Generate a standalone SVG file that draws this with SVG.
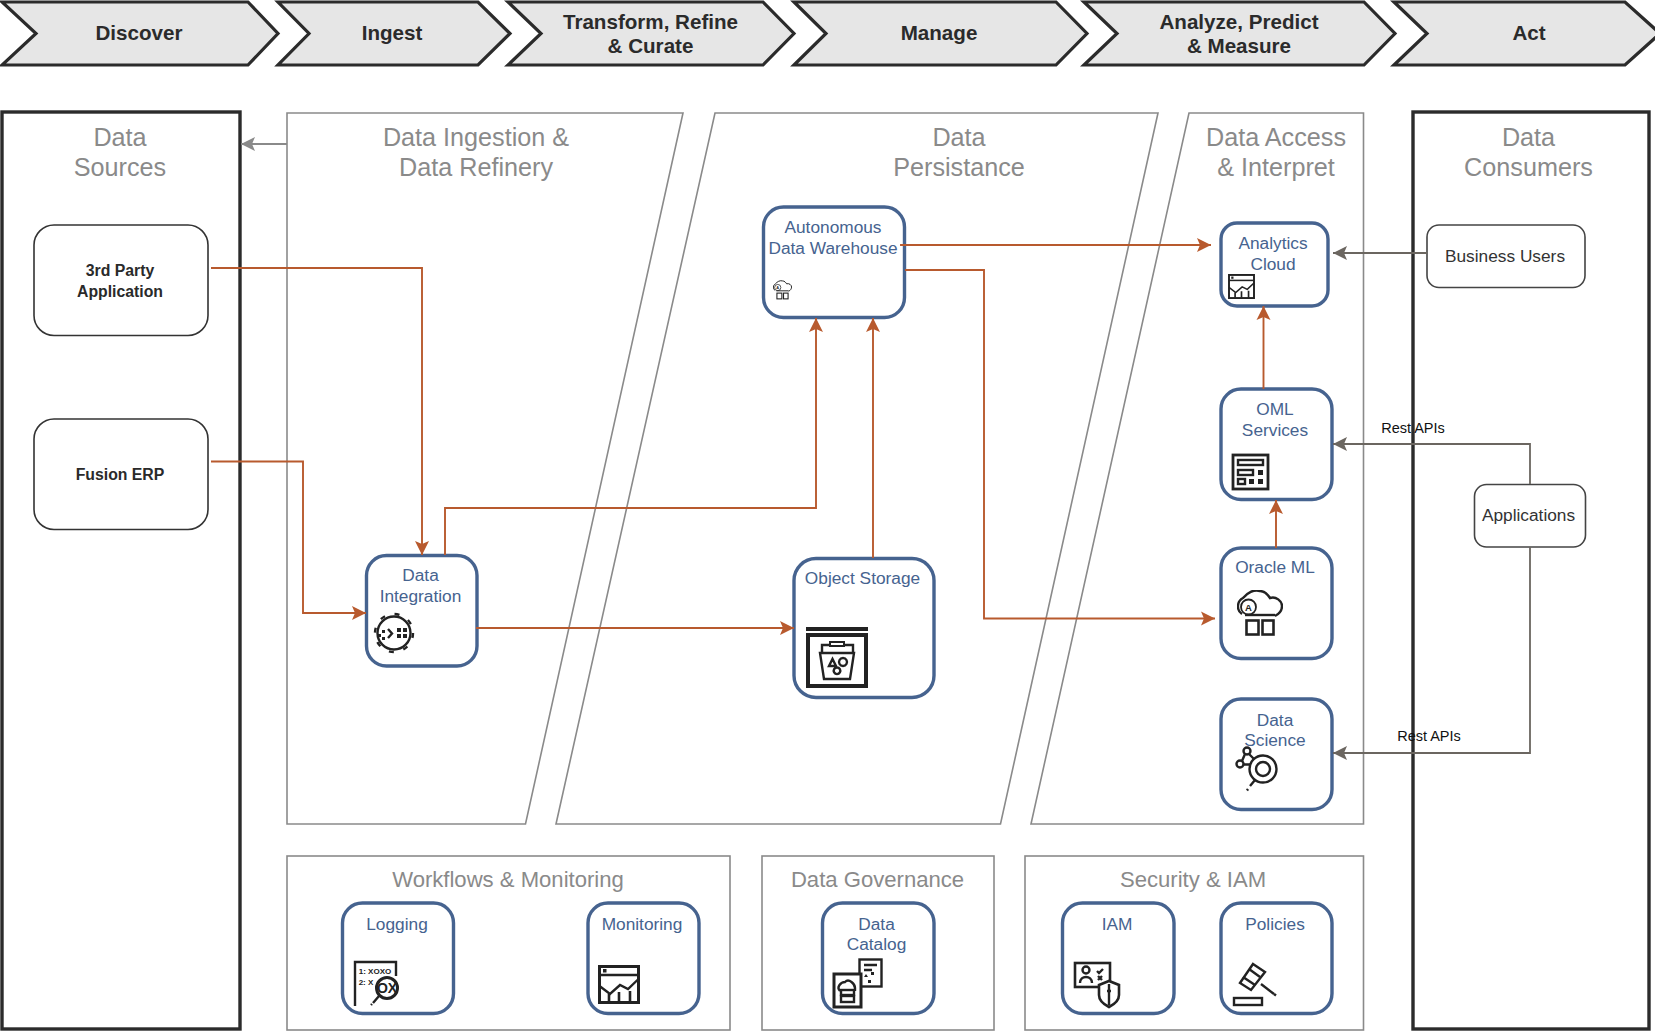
<svg xmlns="http://www.w3.org/2000/svg" xmlns:xlink="http://www.w3.org/1999/xlink" width="1655" height="1031" viewBox="0 0 1655 1031">
<style>
text{font-family:"Liberation Sans",Arial,sans-serif;text-anchor:middle}
.chev{fill:#e6e6e6;stroke:#2b2b2b;stroke-width:3.2}
.chevt{font-size:20.6px;font-weight:bold;fill:#2b2b2b}
.outer{fill:#fff;stroke:#2b2b2b;stroke-width:3.4}
.panel{fill:#fff;stroke:#8a8a8a;stroke-width:1.6}
.ptitle{font-size:25.200px;fill:#8a8a8a}
.btitle{font-size:22.100px;fill:#8a8a8a}
.src{fill:#fff;stroke:#333;stroke-width:1.6}
.srct{font-size:15.800px;font-weight:bold;fill:#2a2a2a}
.cons{fill:#fff;stroke:#444;stroke-width:1.6}
.const{font-size:17.3px;fill:#333}
.svc{fill:#fff;stroke:#46638f;stroke-width:3.4}
.svct{font-size:17.3px;fill:#46638f}
.or{fill:none;stroke:#b85a2e;stroke-width:1.9;marker-end:url(#ao)}
.gr{fill:none;stroke:#6b6660;stroke-width:1.8;marker-end:url(#ag)}
.lg{fill:none;stroke:#8a8a8a;stroke-width:2;marker-end:url(#al)}
.lbl{font-size:14.5px;fill:#111}
.i{fill:none;stroke:#222;stroke-width:2.4}
.f{fill:#222;stroke:none}
</style>
<defs>
<marker id="ao" markerUnits="userSpaceOnUse" markerWidth="15" markerHeight="15" refX="14" refY="7.500" orient="auto"><path d="M14,7.500 L0,.5 L3,7.500 L0,14.500 Z" fill="#b85a2e"/></marker>
<marker id="ag" markerUnits="userSpaceOnUse" markerWidth="15" markerHeight="15" refX="14" refY="7.500" orient="auto"><path d="M14,7.500 L0,.5 L3,7.500 L0,14.500 Z" fill="#6b6660"/></marker>
<marker id="al" markerUnits="userSpaceOnUse" markerWidth="15" markerHeight="15" refX="14" refY="7.500" orient="auto"><path d="M14,7.500 L0,.5 L3,7.500 L0,14.500 Z" fill="#8a8a8a"/></marker>
<symbol id="chart" viewBox="0 0 42 39">
<rect x="1.5" y="1.5" width="39" height="36" fill="#fff" stroke="#222" stroke-width="3"/>
<path d="M1.5,10H40.5" stroke="#222" stroke-width="2.4" fill="none"/>
<rect x="5" y="4" width="3.5" height="3.5" fill="#222"/>
<path d="M1.5,21L12,29L22,20L30,24L40.5,14" stroke="#222" stroke-width="2.4" fill="none"/>
<path d="M11,37V29M21,37V27M32,37V26" stroke="#222" stroke-width="2.6" fill="none"/>
</symbol>
<symbol id="cloudbox" viewBox="0 0 46 46">
<path d="M5,24C-1,20 0,11 6,8C10,3 17,-1 23,1C28,1 31,5 33,8C39,6 45,11 45,16C45,20 42,24 38,26" fill="none" stroke="#222" stroke-width="2.4"/>
<circle cx="11.500" cy="17" r="7.500" fill="#fff" stroke="#222" stroke-width="1.8"/>
<text x="11.500" y="20.500" style="font-size:9.500px;font-weight:bold;fill:#222">A</text>
<path d="M8,25H38" stroke="#222" stroke-width="2.4"/>
<rect x="9.5" y="30.5" width="12" height="14" fill="#fff" stroke="#222" stroke-width="2.6"/>
<rect x="25.5" y="30.5" width="11" height="14" fill="#fff" stroke="#222" stroke-width="2.6"/>
</symbol>
</defs>
<rect width="1655" height="1031" fill="#fff"/>

<g id="stage-discover"><path class="chev" d="M2,2H248L278,33.500L248,65H2L36,33.500Z"/><text class="chevt" x="139" y="40">Discover</text></g>
<g id="stage-ingest"><path class="chev" d="M278,2H478L510,33.500L478,65H278L309,33.500Z"/><text class="chevt" x="392" y="40">Ingest</text></g>
<g id="stage-transform"><path class="chev" d="M508,2H763L794,33.500L763,65H508L541,33.500Z"/><text class="chevt" x="650.500" y="29">Transform, Refine</text><text class="chevt" x="650.500" y="53">&amp; Curate</text></g>
<g id="stage-manage"><path class="chev" d="M794,2H1056L1087,33.500L1056,65H794L826,33.500Z"/><text class="chevt" x="939" y="40">Manage</text></g>
<g id="stage-analyze"><path class="chev" d="M1084,2H1364L1395,33.500L1364,65H1084L1117,33.500Z"/><text class="chevt" x="1239" y="29">Analyze, Predict</text><text class="chevt" x="1239" y="53">&amp; Measure</text></g>
<g id="stage-act"><path class="chev" d="M1394,2H1625L1660,33.500L1625,65H1394L1427,33.500Z"/><text class="chevt" x="1529" y="40">Act</text></g>

<g id="panel-sources"><rect class="outer" x="2" y="112" width="238" height="917"/><text class="ptitle" x="120" y="146">Data</text><text class="ptitle" x="120" y="176">Sources</text></g>
<g id="panel-consumers"><rect class="outer" x="1413" y="112" width="236" height="917"/><text class="ptitle" x="1528.500" y="146">Data</text><text class="ptitle" x="1528.500" y="176">Consumers</text></g>
<g id="panel-ingestion"><path class="panel" d="M287,113H683L525.500,824H287Z"/><text class="ptitle" x="476" y="146">Data Ingestion &amp;</text><text class="ptitle" x="476" y="176">Data Refinery</text></g>
<g id="panel-persistance"><path class="panel" d="M715,113H1158L1000.500,824H556Z"/><text class="ptitle" x="959" y="146">Data</text><text class="ptitle" x="959" y="176">Persistance</text></g>
<g id="panel-access"><path class="panel" d="M1189,113H1363.500V824H1031Z"/><text class="ptitle" x="1276" y="146">Data Access</text><text class="ptitle" x="1276" y="176">&amp; Interpret</text></g>
<g id="panel-workflows"><rect class="panel" x="287" y="856" width="443" height="174"/><text class="btitle" x="508" y="887">Workflows &amp; Monitoring</text></g>
<g id="panel-governance"><rect class="panel" x="762" y="856" width="232" height="174"/><text class="btitle" x="877.500" y="887">Data Governance</text></g>
<g id="panel-security"><rect class="panel" x="1025" y="856" width="338.500" height="174"/><text class="btitle" x="1193" y="887">Security &amp; IAM</text></g>

<g id="node-3rd-party"><rect class="src" x="34" y="225" width="174" height="110.500" rx="20"/><text class="srct" x="120" y="276">3rd Party</text><text class="srct" x="120" y="297">Application</text></g>
<g id="node-fusion-erp"><rect class="src" x="34" y="419" width="174" height="110.500" rx="20"/><text class="srct" x="120" y="480">Fusion ERP</text></g>
<g id="node-business-users"><rect class="cons" x="1427" y="225" width="158" height="62.500" rx="12"/><text class="const" x="1505" y="261.500">Business Users</text></g>
<g id="node-applications"><rect class="cons" x="1474.500" y="484.500" width="111" height="62.500" rx="12"/><text class="const" x="1528.500" y="521">Applications</text></g>

<g id="node-data-integration"><rect class="svc" x="366.500" y="555.500" width="110.500" height="110.500" rx="20"/><text class="svct" x="420.500" y="581">Data</text><text class="svct" x="420.500" y="601.500">Integration</text>
<circle class="i" cx="394" cy="633" r="16.500"/><circle class="i" cx="394" cy="633" r="19" stroke-width="4" stroke-dasharray="5 9.920"/>
<path class="f" d="M382,630h3v3h-3zM378,634h3v3h-3zM382,637h3v3h-3z"/><path class="i" stroke-width="3" d="M388,629l4,4.500l-4,4.500"/><path class="f" d="M397,628h4v4h-4zM403,628h4v4h-4zM397,634h4v4h-4zM403,634h4v4h-4z"/></g>

<g id="node-object-storage"><rect class="svc" x="794" y="558.500" width="140" height="139" rx="22"/><text class="svct" x="862.500" y="584">Object Storage</text>
<rect class="f" x="806" y="627" width="62" height="4"/><rect x="808" y="635" width="58" height="51" fill="none" stroke="#222" stroke-width="4"/>
<path class="i" d="M822,653V645H853V653"/><rect x="830" y="642" width="14" height="4" fill="#fff" stroke="#222" stroke-width="2"/><path class="i" d="M820,653H854L850,679H824Z"/><path class="i" stroke-width="1.600" d="M829,666l3.500,-7l3.500,7zM843,658a4,4 0 1,0 .01,0zM837,667.500a3.300,3.300 0 1,0 .01,0z"/></g>

<g id="node-adw"><rect class="svc" x="763.500" y="207" width="141" height="110.500" rx="20"/><text class="svct" x="833" y="233">Autonomous</text><text class="svct" x="833" y="253.500">Data Warehouse</text>
<use xlink:href="#cloudbox" href="#cloudbox" x="773" y="280" width="19" height="20"/></g>

<g id="node-analytics"><rect class="svc" x="1221" y="223" width="107" height="83" rx="16"/><text class="svct" x="1273" y="249">Analytics</text><text class="svct" x="1273" y="269.500">Cloud</text>
<use xlink:href="#chart" href="#chart" x="1228" y="274" width="27" height="25"/></g>

<g id="node-oml"><rect class="svc" x="1221" y="389" width="111" height="110.500" rx="20"/><text class="svct" x="1275" y="415">OML</text><text class="svct" x="1275" y="435.500">Services</text>
<rect x="1233" y="455" width="35" height="34" fill="none" stroke="#222" stroke-width="2.800"/><rect x="1238" y="460" width="25" height="5" class="i" stroke-width="2"/><rect x="1238" y="470" width="15" height="5" class="i" stroke-width="2"/><path class="f" d="M1258,470h5v5h-5zM1249,479h5v5h-5zM1258,479h5v5h-5z"/><rect x="1238" y="479" width="7" height="5" class="i" stroke-width="2"/></g>

<g id="node-oracle-ml"><rect class="svc" x="1221" y="548" width="111" height="110.500" rx="20"/><text class="svct" x="1275" y="573">Oracle ML</text>
<use xlink:href="#cloudbox" href="#cloudbox" x="1237" y="590" width="46" height="46"/></g>

<g id="node-data-science"><rect class="svc" x="1221" y="699" width="111" height="110.500" rx="20"/><text class="svct" x="1275" y="725.500">Data</text><text class="svct" x="1275" y="746">Science</text>
<circle class="i" cx="1263" cy="769" r="13.500" stroke-width="3.600"/><circle class="i" cx="1263" cy="769" r="7" stroke-width="3.200"/><circle class="i" cx="1247" cy="751" r="3.500" stroke-width="2"/><circle class="i" cx="1240" cy="764" r="3.500" stroke-width="2"/><path class="i" stroke-width="2" d="M1245,754l-3,7M1244,764.500l6,0M1249,754l5,5"/><path class="i" stroke-width="3.200" d="M1255,780l-5,6M1248,789l-1,1.500"/></g>

<g id="node-logging"><rect class="svc" x="342.500" y="903" width="111" height="110.500" rx="20"/><text class="svct" x="397" y="929.500">Logging</text>
<path class="i" d="M355,1006V962H396V976"/><text x="375" y="974" style="font-size:8px;font-weight:bold;fill:#222">1: XOXO</text><text x="366" y="985" style="font-size:8px;font-weight:bold;fill:#222">2: X</text>
<circle cx="387" cy="988" r="10.500" fill="#fff" stroke="#222" stroke-width="3"/><text x="387" y="993" style="font-size:14px;font-weight:bold;fill:#222">OX</text><path class="i" d="M379,996l-6,7M372,1004l-1,1"/></g>

<g id="node-monitoring"><rect class="svc" x="588" y="903" width="111" height="110.500" rx="20"/><text class="svct" x="642" y="929.500">Monitoring</text>
<use xlink:href="#chart" href="#chart" x="598" y="965" width="42" height="39"/></g>

<g id="node-data-catalog"><rect class="svc" x="822.500" y="903" width="111.500" height="110.500" rx="20"/><text class="svct" x="876.500" y="929.500">Data</text><text class="svct" x="876.500" y="950">Catalog</text>
<rect x="859.500" y="959.500" width="22" height="27" fill="#fff" stroke="#222" stroke-width="2.400"/><path class="i" stroke-width="1.600" d="M864,965h13M864,970h8"/><path class="f" d="M866,974l2,3h-4zM871,972h3v3h-3zM868,980h3v3h-3z"/>
<rect x="834" y="974" width="27" height="33" fill="#fff" stroke="#222" stroke-width="3"/><path class="i" stroke-width="1.800" d="M840,991C836,987 841,982 845,982C849,978 855,984 855,988L855,991"/><rect x="841" y="990" width="13" height="5" class="i" stroke-width="1.800"/><rect x="841" y="996" width="13" height="6" class="i" stroke-width="1.800"/></g>

<g id="node-iam"><rect class="svc" x="1062.500" y="903" width="111.500" height="110.500" rx="20"/><text class="svct" x="1117" y="929.500">IAM</text>
<rect x="1075" y="963" width="35" height="24" fill="none" stroke="#222" stroke-width="2.600"/><circle class="i" stroke-width="2" cx="1086" cy="970" r="3.500"/><path class="i" stroke-width="2" d="M1080,983c0,-8 12,-8 12,0"/><path class="i" stroke-width="1.600" d="M1097,971l2,2l4,-4M1098,976l4,4M1102,976l-4,4"/>
<path d="M1099,985L1109,981L1119,985V995C1119,1001 1113,1005 1109,1007C1105,1005 1099,1001 1099,995Z" fill="#fff" stroke="#222" stroke-width="2.600"/><path class="i" stroke-width="2" d="M1109,984V1005M1107,991H1111"/></g>

<g id="node-policies"><rect class="svc" x="1221" y="903" width="111" height="110.500" rx="20"/><text class="svct" x="1275" y="929.500">Policies</text>
<path class="i" stroke-width="2.800" d="M1253,964L1265,972L1251,990L1240,983Z"/><path class="i" d="M1249,969L1260,977M1243,977L1255,985" stroke-width="2"/><path class="i" d="M1261,984L1274,994"/><path class="i" d="M1274,994l2,1.500" stroke-width="3.500"/><rect x="1234" y="998" width="28" height="7" class="i" stroke-width="2.800"/></g>

<g id="connectors">
<path class="or" d="M211,268H422V555"/>
<path class="or" d="M211,461.500H303V613H366"/>
<path class="or" d="M445,555V508H816V318"/>
<path class="or" d="M873,558V318"/>
<path class="or" d="M476,628H794"/>
<path class="or" d="M901,246V245H1211"/>
<path class="or" d="M905,270H984V618.500H1215"/>
<path class="or" d="M1263.500,389V306"/>
<path class="or" d="M1276,548V500"/>
<path class="lg" d="M287,144H241"/>
<path class="gr" d="M1427,253H1333"/>
<path class="gr" d="M1530,484V444H1333"/>
<path class="gr" d="M1530,547V753H1333"/>
</g>
<g id="connector-labels">
<text class="lbl" x="1413" y="433">Rest APIs</text>
<text class="lbl" x="1429" y="741">Rest APIs</text>
</g>
</svg>
